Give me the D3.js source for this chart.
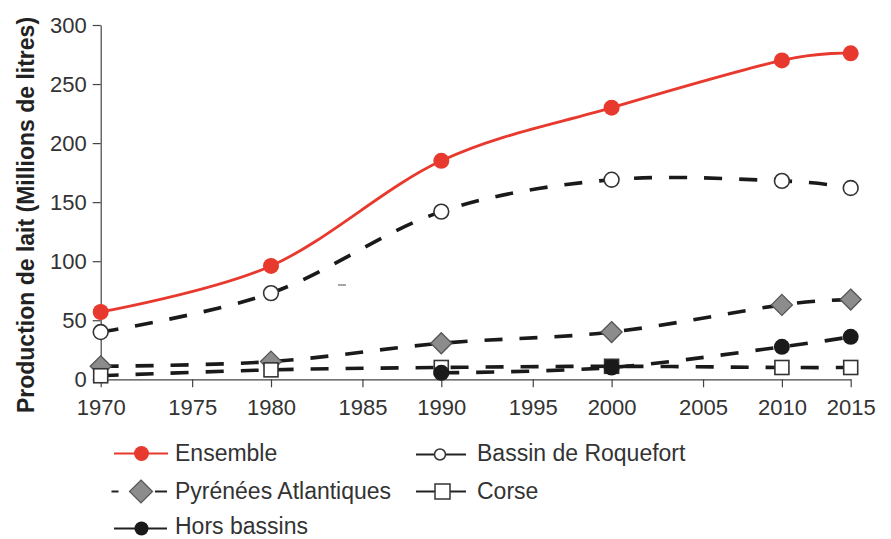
<!DOCTYPE html>
<html>
<head>
<meta charset="utf-8">
<script src="https://cdn.jsdelivr.net/npm/d3@7"></script>
<style>
  html, body { margin: 0; padding: 0; background: #fff; }
  svg { display: block; font-family: "Liberation Sans", Arial, Helvetica, sans-serif; }
</style>
</head>
<body>
<svg id="chart" width="891" height="539"></svg>
<script>
// ---------- DATA ----------
const years = [1970, 1980, 1990, 2000, 2010, 2015];
const tickYears = [1970, 1975, 1980, 1985, 1990, 1995, 2000, 2005, 2010, 2015];
const yTicks = [0, 50, 100, 150, 200, 250, 300];

const ensemble        = [57, 96, 185, 230, 270, 276];
const bassinRoquefort = [40, 73, 142, 169, 168, 162];
const pyreneesAtl     = [11, 15, 30.5, 40, 63, 67.5];
const corse           = [3, 8, 10, 11, 10, 10];
const horsBassins     = [null, null, 5.5, 10, 27.5, 36];

const seriesNames = ["Ensemble", "Bassin de Roquefort", "Pyrénées Atlantiques", "Corse", "Hors bassins"];
const yAxisTitle = "Production de lait (Millions de litres)";

// ---------- LAYOUT ----------
const X0 = 100.7, DEC = 170.3, MINOR_FRAC = 0.537, XEND = 850.7;
const Y0 = 379.3, YTOP = 25;
const RED = "#e8392e";

const svg = d3.select("#chart");

const xRange = tickYears.map(y => {
  if (y === 2015) return XEND;
  const dec = Math.floor((y - 1970) / 10);
  return X0 + dec * DEC + (y % 10 === 5 ? MINOR_FRAC * DEC : 0);
});
const x = d3.scaleLinear().domain(tickYears).range(xRange);
const y = d3.scaleLinear().domain([0, 300]).range([Y0, YTOP]);

// ---------- AXES ----------
const axisColor = "#444";
const gy = svg.append("g").attr("transform", `translate(${X0},0)`)
  .call(d3.axisLeft(y).tickValues(yTicks).tickSize(8).tickSizeOuter(0).tickPadding(6));
const gx = svg.append("g").attr("transform", `translate(0,${Y0})`)
  .call(d3.axisBottom(x).tickValues(tickYears).tickFormat(d3.format("d")).tickSize(8).tickSizeOuter(0).tickPadding(12));
[gx, gy].forEach(g => {
  g.select(".domain").attr("stroke", axisColor).attr("stroke-width", 1.2);
  g.selectAll(".tick line").attr("stroke", axisColor).attr("stroke-width", 1.2);
  g.selectAll(".tick text").attr("fill", "#333").style("font-size", "22px")
    .style("font-family", '"Liberation Sans", Arial, sans-serif');
});

// Y axis title
svg.append("text")
  .attr("transform", `translate(34,215) rotate(-90)`)
  .attr("text-anchor", "middle")
  .attr("fill", "#222")
  .style("font-size", "23px")
  .style("font-weight", "bold")
  .text(yAxisTitle);

// stray mark seen in the original figure
svg.append("line").attr("x1", 338).attr("x2", 346).attr("y1", 285).attr("y2", 285)
  .attr("stroke", "#888").attr("stroke-width", 1.5);

// ---------- LINES ----------
const line = d3.line()
  .defined(d => d != null)
  .x((d, i) => x(years[i]))
  .y(d => y(d))
  .curve(d3.curveCardinal.tension(0));

const dash = "18,17";
const lineSeries = [
  { data: horsBassins, color: "#1a1a1a", dash: dash, w: 3.6 },
  { data: corse, color: "#1a1a1a", dash: dash, w: 3.6 },
  { data: pyreneesAtl, color: "#1a1a1a", dash: dash, w: 3.6 },
  { data: bassinRoquefort, color: "#1a1a1a", dash: dash, w: 3.6 },
  { data: ensemble, color: RED, dash: null, w: 2.8 }
];
lineSeries.forEach(s => {
  svg.append("path").datum(s.data)
    .attr("d", line)
    .attr("fill", "none")
    .attr("stroke", s.color)
    .attr("stroke-width", s.w)
    .attr("stroke-dasharray", s.dash);
});

// ---------- MARKERS ----------
function circles(data, r, fill, stroke, sw) {
  const pts = data.map((v, i) => ({ v, yr: years[i] })).filter(d => d.v != null);
  svg.append("g").selectAll("circle").data(pts).join("circle")
    .attr("cx", d => x(d.yr)).attr("cy", d => y(d.v))
    .attr("r", r).attr("fill", fill).attr("stroke", stroke).attr("stroke-width", sw);
}
function diamonds(data, h, fill, stroke) {
  svg.append("g").selectAll("path").data(data).join("path")
    .attr("d", (d, i) => {
      const cx = x(years[i]), cy = y(d);
      return `M${cx},${cy - h}L${cx + h},${cy}L${cx},${cy + h}L${cx - h},${cy}Z`;
    })
    .attr("fill", fill).attr("stroke", stroke).attr("stroke-width", 1.3);
}
const corseFilledYears = [2000];
function squares(data, s) {
  svg.append("g").selectAll("rect").data(data).join("rect")
    .attr("x", (d, i) => x(years[i]) - s / 2).attr("y", d => y(d) - s / 2)
    .attr("width", s).attr("height", s)
    .attr("fill", (d, i) => corseFilledYears.includes(years[i]) ? "#1a1a1a" : "#fff")
    .attr("stroke", "#333").attr("stroke-width", 1.6);
}

diamonds(pyreneesAtl, 10.5, "#8c8c8c", "#555");
squares(corse, 14);
circles(horsBassins, 8, "#1a1a1a", "#1a1a1a", 0);
circles(bassinRoquefort, 7.4, "#fff", "#333", 1.6);
circles(ensemble, 8, RED, RED, 0);

// ---------- LEGEND ----------
const lg = svg.append("g");
const legendText = { fill: "#333", size: "23px" };
function ltext(xp, yb, t) {
  lg.append("text").attr("x", xp).attr("y", yb).attr("fill", legendText.fill)
    .style("font-size", legendText.size).text(t);
}
function lline(x1, x2, yc, color, w) {
  lg.append("line").attr("x1", x1).attr("x2", x2).attr("y1", yc).attr("y2", yc)
    .attr("stroke", color).attr("stroke-width", w);
}
// Row 1
lline(114, 168, 453.5, RED, 2);
lg.append("circle").attr("cx", 141.5).attr("cy", 453.5).attr("r", 7.5).attr("fill", RED);
ltext(175, 461, seriesNames[0]);
lline(416, 466, 454.5, "#222", 2);
lg.append("circle").attr("cx", 440).attr("cy", 454.5).attr("r", 5.5).attr("fill", "#fff").attr("stroke", "#333").attr("stroke-width", 1.5);
ltext(477, 461, seriesNames[1]);
// Row 2
lline(111.5, 118.5, 491.5, "#222", 2);
lline(155, 167, 491.5, "#222", 2);
lg.append("path").attr("d", "M141,480L152.5,491.5L141,503L129.5,491.5Z")
  .attr("fill", "#8c8c8c").attr("stroke", "#555").attr("stroke-width", 1.2);
ltext(175, 498.5, seriesNames[2]);
lline(416, 466, 491.5, "#222", 2);
lg.append("rect").attr("x", 435).attr("y", 484).attr("width", 15).attr("height", 15)
  .attr("fill", "#fff").attr("stroke", "#333").attr("stroke-width", 1.5);
ltext(477, 498.5, seriesNames[3]);
// Row 3
lline(114, 167, 528.5, "#222", 2);
lg.append("circle").attr("cx", 141.5).attr("cy", 528.5).attr("r", 7).attr("fill", "#1a1a1a");
ltext(175, 534, seriesNames[4]);
</script>
</body>
</html>
